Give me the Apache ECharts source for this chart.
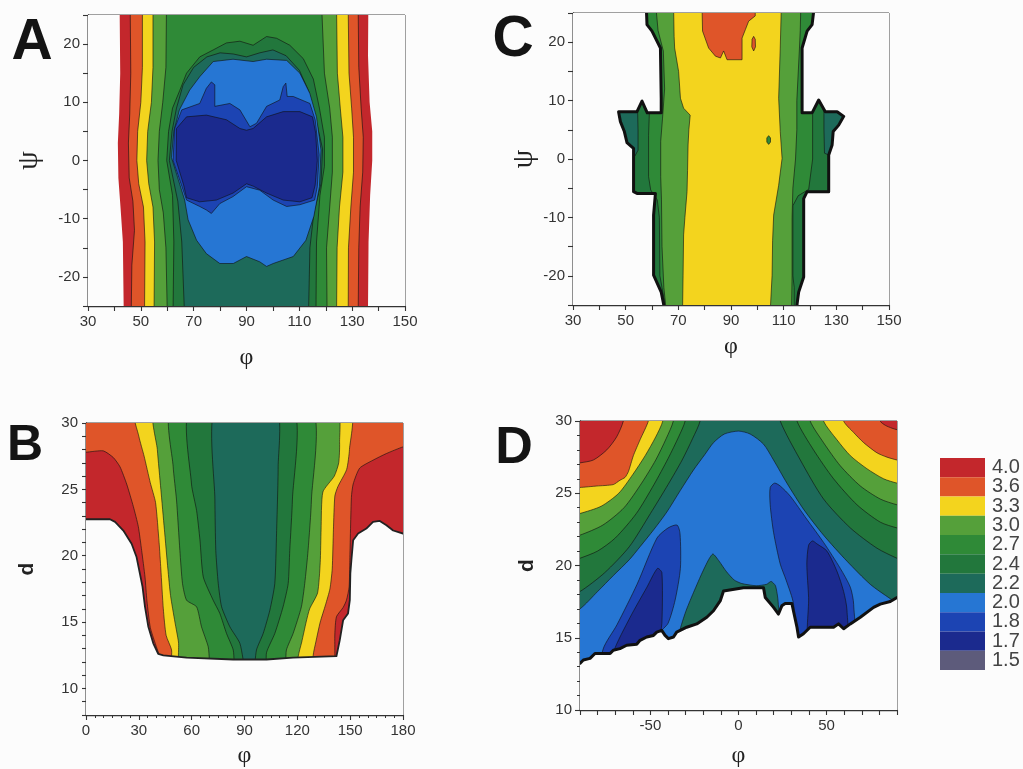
<!DOCTYPE html>
<html><head><meta charset="utf-8">
<script src="https://cdn.jsdelivr.net/npm/echarts@6/dist/echarts.min.js"></script>
<style>html,body{margin:0;padding:0;background:#fcfcfc}#c{width:1023px;height:769px}</style>
</head><body><div id="c"></div>
<script>
// ---------- legend (colour scale) ----------
const legendLabels = ['4.0','3.6','3.3','3.0','2.7','2.4','2.2','2.0','1.8','1.7','1.5'];
const COLOR = {'4.0':'#c3272c','3.6':'#df5529','3.3':'#f3d41e','3.0':'#55a03a','2.7':'#2f8a37','2.4':'#22773c','2.2':'#1d6a5a','2.0':'#2676d3','1.8':'#1c44b3','1.7':'#1b2a8e','1.5':'#5d5b7b'};
const BG = '#fcfcfc';

// ---------- Panel A (phi 30..150, psi -25..25): contour boundaries [phi, psi] ----------
const A_full = [[25,26],[155,26],[155,-26],[25,-26]];
const A_lt36 = [[46,26],[46,25],[46.2,15],[45.8,8],[45.3,3],[45.6,-3],[47,-7],[47.6,-12],[46.6,-18],[46.4,-25],[46.4,-26],
  [132.3,-26],[132.3,-25],[132.5,-15],[133,-8],[134,-2],[134.2,4],[133.4,9],[132.5,16],[132.3,25],[132.3,26]];
const A_lt33 = [[50.6,26],[50.6,16],[50,10],[48.8,5],[48.5,0],[49.2,-4],[51,-8],[51.6,-14],[51.4,-26],
  [128.5,-26],[128.6,-15],[129.5,-8],[130.5,-2],[130.5,4],[129.8,9],[128.8,15],[128.5,26]];
const A_lt30 = [[54.6,26],[54.6,16],[54,10],[52.6,5],[52.2,0],[53,-4],[54.6,-8],[55.2,-14],[55,-26],
  [124.1,-26],[124.3,-15],[125.2,-8],[126.5,-2],[126.5,4],[125.5,9],[124.4,15],[124.1,26]];
const A_lt27 = [[59.7,26],[59.5,16],[58.3,10],[57,5],[56.5,0],[57,-5],[58.5,-9],[59.5,-15],[60,-26],
  [120.5,-26],[120.3,-15],[121.5,-8],[122.5,-2],[122.5,4],[121.5,9],[119.5,15],[118.5,26]];
const A_lt24 = [[62.2,-26],[62.5,-14],[62,-6],[59.8,0],[60.5,5],[62,9],[64.7,12],[67.3,15],[72.3,17.8],[77.4,19],[82.4,20.2],[87.5,20.5],[92.5,19.8],[97.6,21.3],[101.4,21],[106.4,19.8],[111.5,17.5],[115.3,14],[117.6,9],[119.5,4],[119.5,-1],[117.8,-6],[116.5,-14],[116.3,-26]];
const A_lt22 = [[66.5,-26],[65.5,-14],[64,-7],[60.8,0],[61.8,5],[63.5,9],[66,13],[70,16],[75,17.8],[80,18.5],[85,18.3],[90,17.8],[95,18.5],[100,19],[105,18],[110,15.5],[113.5,12],[116.3,7],[118.8,2],[118.2,-4],[115.5,-9],[114,-15],[113.5,-26]];
const A_lt20 = [[72.3,14.4],[77.4,17],[84.9,17.4],[92.5,17],[97.6,17.4],[105.2,17.2],[110.2,15],[114,11.5],[116.5,7.5],[118.2,1.8],[117.6,-4.5],[115.5,-9.6],[112.5,-13.7],[107.7,-16.5],[100.1,-17.7],[97.6,-18.2],[95,-17.4],[90,-16.5],[85,-17.7],[79.9,-17.7],[74.8,-16],[71.1,-13.7],[67.9,-10.2],[66.6,-6.8],[64.2,-3.3],[61.6,0.5],[62.5,5],[64.6,8.7],[68.5,12.1]];
const A_lt18 = [[62.8,5.5],[65.5,8.7],[72.3,9.8],[74.8,12.4],[76.7,13.5],[78,13],[78,9.3],[83.7,9.8],[87.5,8.7],[91.3,5.8],[93.8,6.4],[97.6,9.3],[102.6,10.4],[103.9,12.7],[104.9,13.3],[105.4,11],[107.7,11],[114,9.8],[116,7],[117.5,1],[116.8,-4.5],[115.8,-6.8],[110.2,-7.6],[105.2,-7.9],[100.1,-6.8],[95,-5.1],[90,-4.5],[84.9,-6.2],[79.9,-7.4],[76.7,-9.1],[74.8,-8.5],[72.3,-7.9],[67.3,-6.8],[65.6,-4.5],[62.2,0]];
const A_lt17 = [[63.4,0],[63.5,5.5],[67.3,7.5],[74.8,7.8],[82.4,7],[87.5,5.5],[90,5.2],[92.5,5.5],[97.6,7.5],[103.9,8.4],[110.2,8.4],[115,7.5],[116.2,4.7],[116.8,0],[116,-4.2],[114.8,-6.4],[110.2,-7.1],[103.9,-6.8],[97.6,-5.6],[92.5,-4.4],[90,-4.0],[84.9,-5.6],[78.6,-6.8],[72.3,-7.1],[67.3,-6.4],[66.2,-4.2]];
const A_maskL = [[25,26],[42,26],[42,25],[42.2,15],[41.8,8],[41.3,3],[41.5,-3],[42.3,-8],[43.2,-14],[43.5,-25],[43.5,-26],[25,-26]];
const A_maskR = [[155,26],[136.1,26],[136.1,25],[136,18],[136.6,10],[137.6,5],[137.6,0],[136.8,-6],[136.2,-14],[136,-25],[136,-26],[155,-26]];

// ---------- Panel C (phi 30..150, psi -25..25) ----------
const C_full = [[25,26],[155,26],[155,-26],[25,-26]];
const C_tealL = [[40,9],[54.5,9],[54.7,5],[54.7,1.5],[53.5,0.5],[40,0.5]];
const C_tealR = [[125.3,9],[140,9],[140,1],[127,0.7],[125.5,1],[125.3,5]];
const C_gt24 = [[57,26],[57,23],[59,21.5],[62,19.5],[63,18],[62.5,10],[60.5,8.5],[59,8],[58.7,4],[58.7,-3],[59.5,-5.3],[62,-7],[62.8,-10],[63,-20],[64.6,-24],[65,-26],
  [114,-26],[114,-22],[113.5,-20],[113.5,-8],[115.5,-6.3],[119.5,-5.2],[121,0],[121,7.6],[119,8.8],[117.5,10],[117.3,18],[118.5,20],[121,23],[123,26]];
const C_gt27 = [[61.5,26],[62.3,22],[64.3,18.5],[64.8,12],[64,7],[63.3,3],[63.3,-3],[63.6,-7],[63.8,-15],[64.5,-22],[65.4,-26],
  [113,-26],[113.2,-20],[113.2,-10],[113.5,-5],[114.5,0],[115,5],[115,10],[116,19],[116.3,22],[116.5,26]];
const C_gt30 = [[68.2,26],[68.4,21],[68.6,19],[70.1,15],[70.8,10.4],[72,8.7],[74.5,7.5],[74,5],[73.7,2.4],[73.5,-2],[73.3,-5.6],[72.5,-10],[72,-13],[71.8,-20],[71.6,-26],
  [104.9,-26],[105.6,-19.9],[105.8,-14],[106.2,-9.6],[108.1,-4.5],[109.4,0.1],[108.7,4.7],[108.1,10.4],[108.7,19],[109.1,26]];
const C_gt33 = [[79,26],[79.2,21.9],[81.5,19],[84.1,17.6],[86,17.3],[87.2,18.5],[88.5,17],[94.2,17],[94.2,20.7],[95.5,22.2],[96.7,23.6],[99.2,24.5],[99.2,26]];
const C_dotHigh = [[98.6,21],[99.2,20.5],[99.3,19.2],[98.6,18.5],[97.9,19.2],[98,20.5]];
const C_dotLow = [[104.3,4],[105,3.6],[105,2.9],[104.3,2.5],[103.6,2.9],[103.6,3.6]];
const C_maskL = [[25,26],[57.9,26],[57.9,25.3],[58.1,23],[60,21.9],[63.2,19],[63.5,10.4],[63.5,7.9],[58.2,7.9],[56.2,9.9],[54.3,8.1],[47.3,8.1],[48,6.4],[49.5,4.7],[50.5,2.8],[52,2.2],[53,1.8],[53,-5.6],[54.3,-5.9],[61.3,-5.9],[60.6,-9.6],[60.6,-19.9],[63.5,-22.8],[64.4,-24.8],[64.6,-26],[25,-26]];
const C_maskR = [[155,26],[121.6,26],[121.4,25.3],[120.8,23],[118.9,21.9],[117,19],[117,7.9],[120.8,7.9],[123.3,10.1],[125.8,8.1],[130.3,8.1],[132.8,7.3],[130.9,5.8],[128.8,4.7],[128.4,2.4],[127.1,0.7],[127.1,-5.6],[118.9,-5.6],[117.6,-6.8],[117.6,-20.2],[115.7,-22.8],[115.1,-24.8],[115,-26],[155,-26]];

// ---------- Panel B (phi 0..180, d 8..30) ----------
const B_full = [[-5,31],[185,31],[185,7],[-5,7]];
const B_lt36 = [[-5,31],[-5,27.8],[0,27.8],[9.8,27.9],[15.5,27.4],[19.3,26.7],[23.1,25.4],[26.9,23.7],[29.7,22.2],[31.6,20.4],[33.5,18.4],[34.6,16.6],[36.5,14.6],[39.3,13.4],[42,12.3],[43,11],
  [141,11],[141.3,12.5],[141.3,14.1],[142.2,15.4],[146,16.1],[147.9,16.65],[149.4,17.65],[149.8,19.66],[150.7,24.4],[151.7,25.4],[155.4,26.6],[163,27.2],[170.6,27.7],[180,28.2],[185,28.3],[185,31]];
const B_lt33 = [[27.8,31],[30,29],[33,27.5],[36.5,25.5],[39.5,24],[41.5,21],[42.5,19],[43.9,16],[45.5,14],[48.6,12.9],[49.5,11],
  [129,11],[129,12.5],[130.5,13.5],[133,15],[136,16.3],[138.5,17.5],[139.8,19],[140.5,22],[141.3,24.5],[143,25.2],[148,26.5],[149.6,28],[149.8,31]];
const B_lt30 = [[39.1,31],[40.5,28],[42.5,25],[44.5,22],[46.5,19],[48,17],[50.5,15],[52.5,13.5],[54.3,11],
  [120.5,11],[120.5,12.4],[122.5,13.5],[125,15],[127,16],[131.5,17.2],[133,19.5],[133.5,22],[134.5,24.8],[141,26],[143.5,27],[144,28.5],[142.2,31]];
const B_lt27 = [[48.6,31],[49.5,26.7],[51.4,24.2],[53.3,20.4],[54.8,17.9],[57.1,16.65],[62.8,16.15],[65.6,14.64],[69.4,13.14],[72.2,11],
  [111.9,11],[113.8,12.9],[117.6,14.14],[122.3,16.15],[124.2,17.9],[126.1,20.4],[128,24.2],[128,31]];
const B_lt24 = [[59,31],[59.9,25.4],[62.8,23.4],[64.7,21.2],[66.6,18.4],[72.2,16.65],[76,15.65],[79.8,14.14],[83.6,12.9],[85.5,11],
  [101.5,11],[102.5,12.7],[107.2,14.14],[111.9,16.15],[114.8,17.9],[115.7,20.4],[117.2,24.2],[117.6,31]];
const B_lt22 = [[73.2,31],[73.2,24.2],[73.7,20.4],[75.1,17.9],[77,16.15],[81.7,14.64],[87.4,13.39],[91.1,11],
  [94.9,11],[96.8,12.9],[100.6,14.14],[104.4,15.9],[107.2,17.9],[108.2,21.7],[109.1,26.7],[108.2,31]];
const B_mask = [[-5,22.75],[13.6,22.75],[16.5,22.55],[21.2,21.9],[25.9,20.9],[28.7,19.9],[30.6,18.65],[32.1,17.65],[33.5,16.15],[35.4,14.65],[38.2,13.4],[41,12.6],[43.9,12.5],[57.1,12.33],[83.6,12.18],[102.5,12.18],[117.6,12.33],[142.2,12.43],[144.1,13.64],[146,15.14],[148.8,15.65],[149.8,16.65],[150.1,18.66],[150.7,19.66],[151.7,21.17],[154.5,21.67],[159.2,22.05],[163,22.55],[166.8,22.62],[170.6,22.3],[174.4,21.9],[180,21.67],[185,21.6],[185,7],[-5,7]];

// ---------- Panel D (phi -90..90, d 10..30) ----------
const D_full = [[-95,31],[95,31],[95,9],[-95,9]];
const D_L24 = [[-95,31],[-21.8,31],[-21.8,30],[-26,28.8],[-32,27.3],[-40,25.6],[-50,23.6],[-62,21.3],[-76,19.5],[-90,18.2],[-95,18.1]];
const D_L27 = [[-95,31],[-30.3,31],[-30.3,30],[-34,28.9],[-40,27.4],[-48,25.6],[-58,23.6],[-70,21.9],[-80,21],[-90,20.5],[-95,20.3]];
const D_L30 = [[-95,31],[-37,31],[-37,30],[-41,28.8],[-47,27.3],[-55,25.7],[-65,24],[-77,22.8],[-90,22.1],[-95,22]];
const D_L33 = [[-95,31],[-43,31],[-43,30],[-47,28.9],[-53,27.6],[-60,26.3],[-68,25],[-78,24.1],[-90,23.6],[-95,23.5]];
const D_L36 = [[-95,31],[-51.2,31],[-51.2,30],[-55.9,28.7],[-59.7,27.6],[-62.5,26.5],[-64.4,26.1],[-67.3,25.9],[-71.1,25.6],[-80.5,25.5],[-90,25.4],[-95,25.4]];
const D_L40 = [[-95,31],[-65.4,31],[-65.4,30],[-69.2,28.9],[-74.8,28],[-82.4,27.3],[-90,27.1],[-95,27]];
const D_R24 = [[95,31],[23.7,31],[23.7,30],[35.1,27.3],[48.3,24.6],[63.5,22.6],[78.6,21.2],[90,20.5],[95,20.3]];
const D_R27 = [[95,31],[33.2,31],[33.2,30],[42.6,28],[54,26],[67.3,24.2],[80.5,23],[90,22.6],[95,22.5]];
const D_R30 = [[95,31],[40.7,31],[40.7,30],[48.3,28.5],[57.8,26.9],[69.2,25.5],[80.5,24.6],[90,24.2],[95,24.1]];
const D_R33 = [[95,31],[48.3,31],[48.3,30],[55.9,28.7],[63.5,27.6],[72.9,26.7],[82.4,26],[90,25.7],[95,25.6]];
const D_R36 = [[95,31],[59.7,31],[59.7,30],[65.4,29.2],[71.1,28.5],[78.6,27.8],[84.3,27.5],[90,27.3],[95,27.2]];
const D_R40 = [[95,31],[80.5,31],[80.5,30],[83.4,29.7],[87.2,29.5],[90,29.4],[95,29.3]];
const D_lt20 = [[-95,16.9],[-90,17.0],[-80,18.2],[-71.1,19.3],[-62,20.4],[-55.9,21.3],[-48,22.5],[-40.7,23.7],[-33,25.2],[-25.6,26.6],[-19,27.7],[-14.2,28.5],[-8,29.1],[0,29.3],[6.6,29.1],[14.2,28.4],[19.9,27.3],[27.5,25.7],[36.9,23.9],[48.3,22.1],[61.6,20.3],[74.8,18.7],[86.2,17.7],[95,17],[95,9],[-95,9]];
const D_bump = [[-36,13],[-33.5,15.4],[-30,16.8],[-26,18],[-21,19.4],[-17,20.4],[-14.5,20.8],[-11,20.3],[-7,19.6],[-2.5,19],[1.9,18.75],[10,18.6],[16,18.7],[18.5,18.9],[21,18.6],[22.5,17.5],[23,13]];
const D_lt18L = [[-78,12],[-76.9,14.2],[-69,15.9],[-57.6,18.7],[-46.3,21.9],[-40,22.6],[-34.9,22.8],[-33.2,22.2],[-33,19.8],[-36,17.6],[-40,16],[-44.6,15.3],[-46,12]];
const D_lt17L = [[-73,12],[-71,14],[-61.6,16.4],[-52,18.5],[-46,19.8],[-43.5,19.5],[-43.5,16],[-45,14.8],[-46,12]];
const D_lt18R = [[18,24.2],[18,25.4],[20.5,25.7],[23.7,25.5],[29.4,24.8],[38.8,23.2],[48.3,21.6],[57.8,19.8],[63.5,18.5],[65.4,17.3],[64.5,14],[32,14],[31.3,17.3],[27,19],[23.7,20.1],[19.9,22.3]];
const D_lt17R = [[38.8,20.1],[39.8,21.4],[42,21.7],[44.5,21.5],[50.2,21],[55.9,19.6],[59.7,18.2],[61.6,16.9],[61,14],[40.5,14],[39.8,17.8]];
const D_mask = [[-95,13.2],[-90,13.23],[-88.1,13.46],[-84.3,13.57],[-81.5,13.91],[-72.9,13.91],[-71.1,14.14],[-67.3,14.25],[-63.5,14.48],[-57.8,14.55],[-55.9,14.82],[-52.1,15.05],[-48.3,15.16],[-46.4,15.39],[-43.6,15.51],[-41.7,15.16],[-39.8,14.94],[-36.9,15.05],[-35.1,15.39],[-29.4,15.73],[-23.7,15.96],[-18,16.42],[-14.2,16.87],[-10.4,17.55],[-8.5,18.24],[2.8,18.46],[14.2,18.46],[15.2,17.78],[19.9,17.1],[22.7,16.64],[24.6,17.21],[26.5,17.37],[30.3,17.37],[33.2,15.73],[34.1,15.05],[36.9,15.28],[40.7,15.73],[54,15.73],[56.8,15.96],[59.7,15.62],[63.5,15.96],[69.2,16.42],[76.7,17.1],[80.5,17.33],[86.2,17.51],[90,17.78],[95,18],[95,9],[-95,9]];

// ---------- layer lists (level key -> colour) ----------
const LINE = 'rgba(15,15,15,0.75)';
function reg(level, pts, opt) { return Object.assign({fill: level === 'mask' ? BG : COLOR[level], pts: pts, stroke: LINE, lw: 0.8, smooth: 0}, opt || {}); }
const A_layers = [reg('4.0',A_full,{lw:0}), reg('3.6',A_lt36), reg('3.3',A_lt33), reg('3.0',A_lt30), reg('2.7',A_lt27), reg('2.4',A_lt24), reg('2.2',A_lt22), reg('2.0',A_lt20), reg('1.8',A_lt18), reg('1.7',A_lt17), reg('mask',A_maskL,{lw:0}), reg('mask',A_maskR,{lw:0})];
const C_layers = [reg('2.4',C_full,{lw:0}), reg('2.2',C_tealL), reg('2.2',C_tealR), reg('2.7',C_gt24), reg('3.0',C_gt27), reg('3.3',C_gt30), reg('3.6',C_gt33), reg('3.6',C_dotHigh), reg('2.7',C_dotLow), reg('mask',C_maskL,{stroke:'#111',lw:3}), reg('mask',C_maskR,{stroke:'#111',lw:3})];
const B_layers = [reg('4.0',B_full,{lw:0}), reg('3.6',B_lt36,{smooth:0.2}), reg('3.3',B_lt33,{smooth:0.2}), reg('3.0',B_lt30,{smooth:0.2}), reg('2.7',B_lt27,{smooth:0.2}), reg('2.4',B_lt24,{smooth:0.2}), reg('2.2',B_lt22,{smooth:0.2}), reg('mask',B_mask,{stroke:'#222',lw:1.8})];
const D_layers = [reg('2.2',D_full,{lw:0}), reg('2.4',D_L24,{smooth:0.25}), reg('2.7',D_L27,{smooth:0.25}), reg('3.0',D_L30,{smooth:0.25}), reg('3.3',D_L33,{smooth:0.25}), reg('3.6',D_L36,{smooth:0.2}), reg('4.0',D_L40,{smooth:0.25}),
  reg('2.4',D_R24,{smooth:0.25}), reg('2.7',D_R27,{smooth:0.25}), reg('3.0',D_R30,{smooth:0.25}), reg('3.3',D_R33,{smooth:0.25}), reg('3.6',D_R36,{smooth:0.25}), reg('4.0',D_R40,{smooth:0.25}),
  reg('2.0',D_lt20,{smooth:0.25}), reg('2.2',D_bump,{smooth:0.2}), reg('1.8',D_lt18L,{smooth:0.25}), reg('1.7',D_lt17L,{smooth:0.25}), reg('1.8',D_lt18R,{smooth:0.25}), reg('1.7',D_lt17R,{smooth:0.25}),
  reg('mask',D_mask,{stroke:'#111',lw:3})];

function contourSeries(idx, layers) {
  return {
    type: 'custom', xAxisIndex: idx, yAxisIndex: idx, clip: true, silent: true, animation: false,
    data: layers.map(l => l.pts[0]),
    renderItem: function (params, api) {
      const l = layers[params.dataIndex];
      return { type: 'polygon', shape: { points: l.pts.map(p => api.coord(p)), smooth: l.smooth },
        style: { fill: l.fill, stroke: l.lw ? l.stroke : null, lineWidth: l.lw, lineJoin: 'round' } };
    }
  };
}

const FONT = '"Liberation Sans", Arial, sans-serif';
const SERIF = '"Liberation Serif", "DejaVu Serif", serif';
const axisCommon = {
  axisLine: { show: true, onZero: false, lineStyle: { color: '#333', width: 1.3 } },
  axisTick: { show: true, inside: false, length: 5, lineStyle: { color: '#333', width: 1.1 } },
  splitLine: { show: false },
  axisLabel: { color: '#333', fontSize: 15, fontFamily: FONT, margin: 8, showMinLabel: true, showMaxLabel: true },
  nameTextStyle: { color: '#222', fontSize: 24, fontFamily: SERIF },
  nameLocation: 'middle'
};
function ax(extra, fmt) {
  const o = JSON.parse(JSON.stringify(axisCommon));
  Object.assign(o, extra);
  if (fmt) o.axisLabel.formatter = fmt;
  return o;
}
const every = (base, step) => v => (Math.abs((v - base) % step) < 1e-6 ? String(Math.round(v)) : '');

const grids = [
  { left: 88, top: 15, width: 317, height: 291 },   // A
  { left: 573, top: 13, width: 316, height: 292 },  // C
  { left: 86, top: 423, width: 317, height: 293 },  // B
  { left: 580, top: 421, width: 317, height: 293 }  // D
].map(g => Object.assign({ show: true, borderColor: '#444', borderWidth: 1, backgroundColor: 'transparent' }, g));
grids.push({ left: 940, top: 458, width: 45, height: 212, show: false }); // colour scale

const xAxes = [
  ax({ gridIndex: 0, type: 'value', min: 30, max: 150, interval: 10, name: 'φ', nameGap: 40 }, every(30, 20)),
  ax({ gridIndex: 1, type: 'value', min: 30, max: 150, interval: 10, name: 'φ', nameGap: 30 }, every(30, 20)),
  ax({ gridIndex: 2, type: 'value', min: 0, max: 180, interval: 30, name: 'φ', nameGap: 29, minorTick: { show: true, splitNumber: 6, length: 3, lineStyle: { color: '#333' } } }, every(0, 30)),
  ax({ gridIndex: 3, type: 'value', min: -90, max: 90, interval: 10, name: 'φ', nameGap: 34 }, every(0, 50)),
  { gridIndex: 4, type: 'value', min: 0, max: 1, show: false }
];
const yAxes = [
  ax({ gridIndex: 0, type: 'value', min: -25, max: 25, interval: 5, name: 'ψ', nameGap: 44 }, every(0, 10)),
  ax({ gridIndex: 1, type: 'value', min: -25, max: 25, interval: 5, name: 'ψ', nameGap: 33 }, every(0, 10)),
  ax({ gridIndex: 2, type: 'value', min: 8, max: 30, interval: 1, name: 'd', nameGap: 48 }, every(0, 5)),
  ax({ gridIndex: 3, type: 'value', min: 10, max: 30, interval: 5, name: 'd', nameGap: 42, minorTick: { show: true, splitNumber: 5, length: 3, lineStyle: { color: '#333' } } }, every(0, 5)),
  { gridIndex: 4, type: 'category', data: legendLabels, inverse: true, position: 'right',
    axisLine: { show: false }, axisTick: { show: false }, splitLine: { show: false },
    axisLabel: { color: '#444', fontSize: 20, fontFamily: FONT, margin: 7, interval: 0 } }
];
[0, 1].forEach(i => { yAxes[i].nameTextStyle = { color: '#222', fontSize: 30, fontFamily: SERIF }; });
[2, 3].forEach(i => { yAxes[i].nameTextStyle = { color: '#222', fontSize: 21, fontWeight: 'bold', fontFamily: FONT }; });
yAxes[2].axisTick.length = 4;

const letters = [['A', 32, 43, 57], ['C', 513, 40, 57], ['B', 25, 446, 50], ['D', 514, 449, 52]];

const scaleSeries = {
  type: 'bar', xAxisIndex: 4, yAxisIndex: 4, silent: true, barWidth: '100%', barCategoryGap: '0%',
  data: legendLabels.map(l => ({ value: 1, itemStyle: { color: COLOR[l] } }))
};

const chart = echarts.init(document.getElementById('c'), null, { renderer: 'canvas' });
chart.setOption({
  backgroundColor: BG,
  animation: false,
  grid: grids,
  xAxis: xAxes,
  yAxis: yAxes,
  graphic: letters.map(([t, x, y, s]) => ({ type: 'text', x: x, y: y, silent: true,
    style: { text: t, fontSize: s, fontWeight: 'bold', fontFamily: FONT, fill: '#141414', align: 'center', verticalAlign: 'middle' } })),
  series: [contourSeries(0, A_layers), contourSeries(1, C_layers), contourSeries(2, B_layers), contourSeries(3, D_layers), scaleSeries]
});
</script></body></html>
